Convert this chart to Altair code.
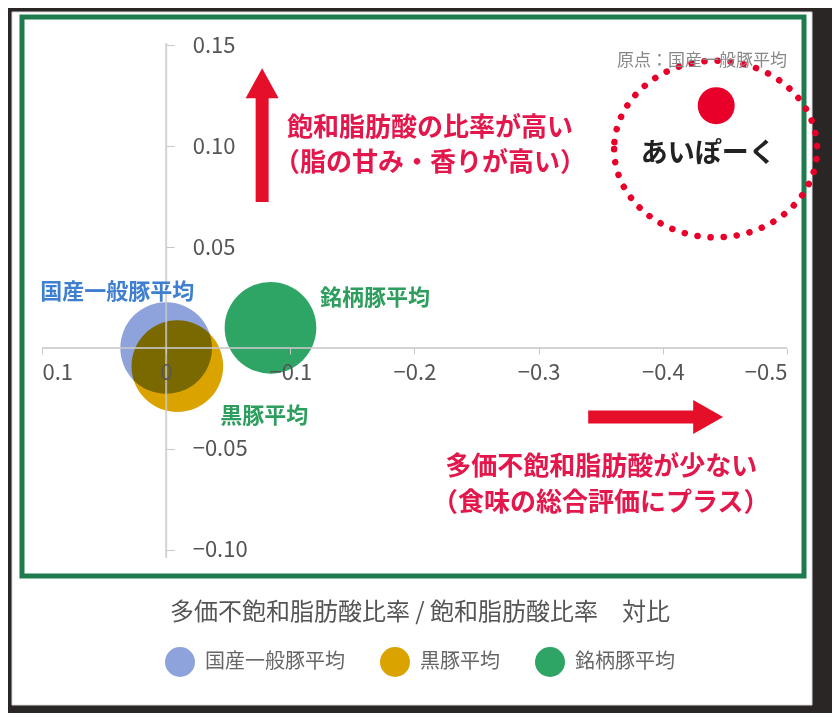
import altair as alt
import pandas as pd

# 原点 = 国産一般豚平均 からの差 (x: 多価不飽和脂肪酸比率, y: 飽和脂肪酸比率)
brands = ["国産一般豚平均", "黒豚平均", "銘柄豚平均"]
brand_pufa = [0.0, -0.009, -0.084]
brand_sfa = [0.0, -0.009, 0.010]
brand_colors = ["#8ea3dc", "#dba300", "#2ea564"]

aipork_name = "あいぽーく"
aipork_pufa = -0.443
aipork_sfa = 0.120

x_ticks = [0.1, 0.0, -0.1, -0.2, -0.3, -0.4, -0.5]
y_ticks = [0.15, 0.10, 0.05, -0.05, -0.10]

legend_title = "多価不飽和脂肪酸比率 / 飽和脂肪酸比率　対比"
origin_note = "原点：国産一般豚平均"
up_lines = ["飽和脂肪酸の比率が高い", "（脂の甘み・香りが高い）"]
right_lines = ["多価不飽和脂肪酸が少ない", "（食味の総合評価にプラス）"]

W, H = 782, 559
FONT = "Noto Sans CJK JP"
RED = "#e60f2a"
PINK = "#e3174b"

x_scale = alt.Scale(domain=[-0.5137, 0.1161], reverse=True, nice=False, zero=False)
y_scale = alt.Scale(domain=[-0.1129, 0.1639], nice=False, zero=False)

x_axis = alt.Axis(values=x_ticks, format=".1~f", orient="bottom", offset=-228,
                  domain=False, grid=False, tickSize=6, tickColor="#c8c8c8",
                  labelFontSize=22, labelColor="#555", labelPadding=8,
                  labelFont=FONT, title=None, zindex=1,
                  labelAlign={"condition": [{"test": "datum.value > 0.05", "value": "left"},
                                            {"test": "datum.value < -0.45", "value": "right"}],
                              "value": "center"})
y_axis = alt.Axis(values=y_ticks, format=".2f", orient="right", offset=-637.8,
                  domain=False, grid=False, tickSize=8, tickColor="#c8c8c8",
                  labelFontSize=22, labelColor="#555", labelPadding=18,
                  labelFont=FONT, title=None, zindex=1)


def xy(chart, xf="x", yf="y"):
    return chart.encode(
        x=alt.X(f"{xf}:Q", scale=x_scale, axis=x_axis),
        y=alt.Y(f"{yf}:Q", scale=y_scale, axis=y_axis),
    )


dummy = pd.DataFrame({"a": [0]})

# white card and green frame
card = alt.Chart(dummy).mark_rect(fill="white", stroke="#d8d8d8", strokeWidth=1).encode(
    x=alt.value(-10), x2=alt.value(W + 8), y=alt.value(-5), y2=alt.value(H + 129)
)
frame = alt.Chart(dummy).mark_rect(filled=False, stroke="#1e7b4d", strokeWidth=5).encode(
    x=alt.value(0), x2=alt.value(W), y=alt.value(0), y2=alt.value(H)
)

brand_df = pd.DataFrame({"name": brands, "x": brand_pufa, "y": brand_sfa})
bubbles = xy(alt.Chart(brand_df).mark_circle(size=8400, opacity=1, blend="multiply")).encode(
    color=alt.Color("name:N", scale=alt.Scale(domain=brands, range=brand_colors),
                    sort=brands,
                    legend=alt.Legend(
                        orient="none", legendX=143, legendY=584, direction="horizontal",
                        title=legend_title, titleAnchor="middle", titleOrient="top",
                        titleFontSize=24, titleFont=FONT, titleColor="#555",
                        titleFontWeight="normal", titlePadding=22, titleLimit=800,
                        labelFontSize=20, labelFont=FONT, labelColor="#666",
                        labelLimit=300, labelOffset=10, columnPadding=35,
                        symbolSize=900, symbolType="circle", symbolStrokeWidth=0,
                        symbolOpacity=1))
)

# axis lines crossing at the origin
x_line = xy(alt.Chart(pd.DataFrame({"x": [x_ticks[0]], "x2": [x_ticks[-1]], "y": [0.0]}))
            .mark_rule(color="#c8c8c8", strokeWidth=2, opacity=0.8)).encode(x2="x2:Q")
y_line = xy(alt.Chart(pd.DataFrame({"x": [0.0], "y": [-0.104], "y2": [0.151]}))
            .mark_rule(color="#c8c8c8", strokeWidth=2, opacity=0.8)).encode(y2="y2:Q")

label_df = pd.DataFrame({
    "x": [0.1015, -0.124, -0.0435],
    "y": [0.0277, 0.0248, -0.0337],
    "label": brands[:1] + [brands[2], brands[1]],
    "c": ["#3f7fcf", "#2e9e5e", "#2e9e5e"],
})
brand_labels = xy(alt.Chart(label_df).mark_text(
    align="left", baseline="middle", font=FONT, fontSize=22, fontWeight="bold")).encode(
    text="label:N", color=alt.Color("c:N", scale=None))

aipork_df = pd.DataFrame({"x": [aipork_pufa], "y": [aipork_sfa], "label": [aipork_name]})
aipork_dot = xy(alt.Chart(aipork_df).mark_circle(size=1369, color="#e8002a", opacity=1))
aipork_ring = xy(alt.Chart(pd.DataFrame({"x": [-0.4425], "y": [0.0985]})).mark_point(
    shape="M-1,0A1,0.87,0,1,0,1,0A1,0.87,0,1,0,-1,0Z", size=41200, filled=False,
    stroke="#e8002a", strokeWidth=6.5, strokeDash=[0.1, 13], strokeCap="round", opacity=1))
aipork_text = xy(alt.Chart(pd.DataFrame({"x": [-0.4365], "y": [0.096], "label": [aipork_name]}))
                 .mark_text(font=FONT, fontSize=27, fontWeight="bold", color="#222",
                            baseline="middle")).encode(text="label:N")

note = xy(alt.Chart(pd.DataFrame({"x": [-0.5], "y": [0.142], "label": [origin_note]}))
          .mark_text(font=FONT, fontSize=17, color="#888", align="right",
                     baseline="middle")).encode(text="label:N")

# red arrows
up_shaft = xy(alt.Chart(pd.DataFrame({"x": [-0.0773], "y": [0.0723], "y2": [0.126]}))
              .mark_rule(color=RED, strokeWidth=13)).encode(y2="y2:Q")
up_head = xy(alt.Chart(pd.DataFrame({"x": [-0.0773], "y": [0.1304]})).mark_point(
    shape="M0,-1L1,0.82L-1,0.82Z", size=1089, filled=True, color=RED, opacity=1))
right_shaft = xy(alt.Chart(pd.DataFrame({"x": [-0.3399], "x2": [-0.428], "y": [-0.0342]}))
                 .mark_rule(color=RED, strokeWidth=13)).encode(x2="x2:Q")
right_head = xy(alt.Chart(pd.DataFrame({"x": [-0.4365], "y": [-0.0342]})).mark_point(
    shape="M0.88,0L-0.88,1L-0.88,-1Z", size=1156, filled=True, color=RED, opacity=1))

up_df = pd.DataFrame({"x": [-0.0974, -0.0869], "y": [0.1089, 0.0916], "label": up_lines})
right_df = pd.DataFrame({"x": [-0.2247, -0.2142], "y": [-0.0589, -0.0767], "label": right_lines})
up_text = xy(alt.Chart(up_df).mark_text(align="left", baseline="middle", font=FONT,
                                        fontSize=26, fontWeight="bold", color=PINK)).encode(text="label:N")
right_text = xy(alt.Chart(right_df).mark_text(align="left", baseline="middle", font=FONT,
                                              fontSize=26, fontWeight="bold", color=PINK)).encode(text="label:N")

chart = alt.layer(
    card, frame, bubbles, x_line, y_line, brand_labels,
    aipork_ring, aipork_dot, aipork_text, note,
    up_shaft, up_head, right_shaft, right_head, up_text, right_text,
).properties(
    width=W, height=H, background="#2b2626",
    autosize=alt.AutoSizeParams(type="none"),
    padding={"left": 14, "top": 9, "right": 28, "bottom": 137},
).configure_view(stroke=None)

chart.save("out.html", embed_options={"renderer": "svg", "actions": False})
